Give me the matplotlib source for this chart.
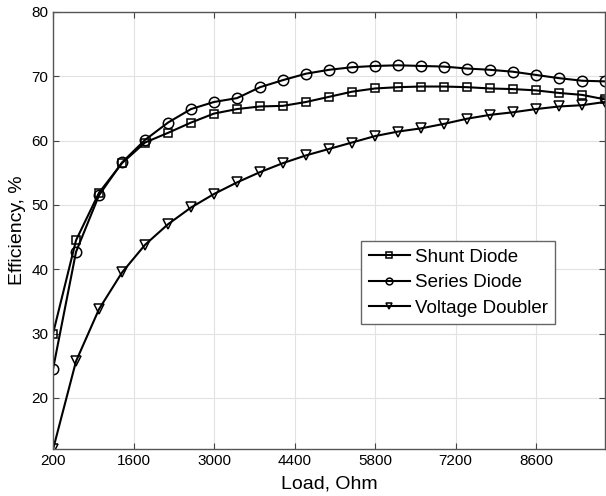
"""
Efficiency vs load for three rectifier topologies.
"""
import matplotlib
matplotlib.use("Agg")
import matplotlib.pyplot as plt
import numpy as np

plt.rcParams["font.family"] = ["Liberation Sans", "DejaVu Sans"]

LOAD = np.arange(200, 9801, 400)

SHUNT = [30.0, 44.5, 51.9, 56.5, 59.7, 61.2, 62.8, 64.2, 64.9, 65.3, 65.4, 66.0,
         66.8, 67.6, 68.1, 68.3, 68.4, 68.4, 68.3, 68.1, 68.0, 67.8, 67.4, 67.1, 66.4]
SERIES = [24.5, 42.7, 51.5, 56.6, 60.1, 62.8, 64.9, 66.0, 66.6, 68.3, 69.4, 70.4,
          71.0, 71.4, 71.6, 71.7, 71.6, 71.5, 71.2, 71.0, 70.7, 70.2, 69.7, 69.3, 69.2]
DOUBLER = [12.0, 25.7, 33.8, 39.5, 43.8, 47.0, 49.6, 51.7, 53.5, 55.1, 56.5, 57.7,
           58.7, 59.7, 60.7, 61.4, 61.9, 62.6, 63.4, 64.0, 64.4, 64.9, 65.3, 65.5, 66.0]

SERIES_NAMES = ["Shunt Diode", "Series Diode", "Voltage Doubler"]
MARKERS = ["s", "o", "v"]
XTICKS = [200, 1600, 3000, 4400, 5800, 7200, 8600]
YTICKS = [20, 30, 40, 50, 60, 70, 80]

fig = plt.figure(figsize=(6.06, 4.96), dpi=100)
ax = fig.add_axes([0.0875, 0.094, 0.911, 0.882])

for vals, name, mk in zip([SHUNT, SERIES, DOUBLER], SERIES_NAMES, MARKERS):
    ax.plot(LOAD, vals, color="black", lw=1.5, marker=mk, ms=7.5 if mk != "s" else 6,
            mfc="none", mec="black", mew=1.1, label=name)

ax.set_xlim(200, 9800)
ax.set_ylim(12, 80)
ax.set_xticks(XTICKS)
ax.set_yticks(YTICKS)
ax.tick_params(direction="in", top=True, right=True, labelsize=11, length=4,
               color="#444444")
ax.grid(True, color="#e2e2e2", lw=0.8)
for s in ax.spines.values():
    s.set_color("#555555")
    s.set_linewidth(1.0)

ax.set_xlabel("Load, Ohm", fontsize=14, labelpad=5)
ax.set_ylabel("Efficiency, %", fontsize=14, labelpad=4)

leg = ax.legend(loc="upper left", bbox_to_anchor=(0.558, 0.476), fontsize=13.5,
                handlelength=2.2, handletextpad=0.25, borderpad=0.4,
                labelspacing=0.45, borderaxespad=0, fancybox=False, framealpha=1,
                markerscale=0.65)
leg.get_frame().set_edgecolor("#666666")
leg.get_frame().set_linewidth(1.0)

fig.savefig("out.png", dpi=100)
